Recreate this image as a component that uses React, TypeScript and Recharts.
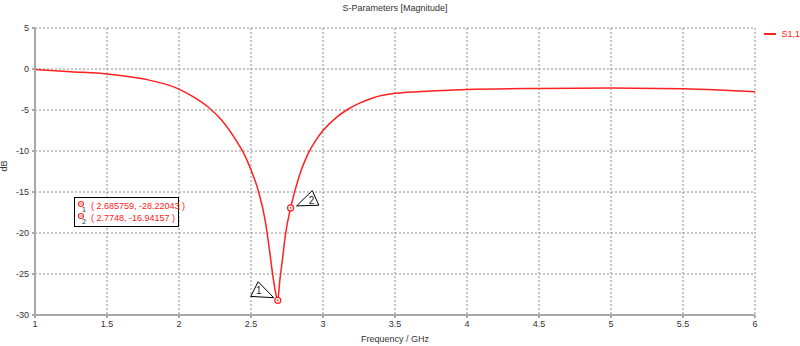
import { LineChart, Line, XAxis, YAxis, CartesianGrid, ReferenceDot } from "recharts";

const freqGHz = [
  1.0, 1.25, 1.5, 1.75, 2.0, 2.1, 2.2, 2.3, 2.4, 2.45, 2.5, 2.55, 2.6, 2.63, 2.65, 2.67, 2.685759,
  2.7, 2.72, 2.74, 2.7748, 2.8, 2.85, 2.9, 2.95, 3.0, 3.1, 3.165, 3.25, 3.35, 3.5, 3.75, 4.0, 4.5, 5.0, 5.5,
  5.75, 6.0,
];
const s11dB = [
  -0.05, -0.33, -0.6, -1.2, -2.45, -3.4, -4.6, -6.3, -8.8, -10.3, -12.3, -14.8, -18.6, -22.3, -25.0,
  -27.2, -28.22043, -25.8, -23.0, -20.1, -16.94157, -15.2, -12.3, -10.2, -8.7, -7.5, -5.8, -5.0, -4.2, -3.5,
  -2.97, -2.68, -2.5, -2.37, -2.32, -2.4, -2.55, -2.77,
];
const xTicks = [1, 1.5, 2, 2.5, 3, 3.5, 4, 4.5, 5, 5.5, 6];
const yTicks = [-30, -25, -20, -15, -10, -5, 0, 5];
const markerNames = ["1", "2"];
const markerFreq = [2.685759, 2.7748];
const markerDB = [-28.22043, -16.94157];

const data = freqGHz.map((f, i) => ({ f, s11: s11dB[i] }));

const RED = "#ff2020";
const FONT = "'Liberation Sans', Arial, sans-serif";

// triangle flag beside each marker, offsets relative to the marker point
const flags = [
  { pts: [[-27, -4], [-19.6, -18.7], [-4, -2.7]], tx: -19, ty: -6 },
  { pts: [[6, -2], [21.7, -17.3], [28.3, -2.7]], tx: 21, ty: -4 },
];

const markerShape = (idx: number) => (props: any) => {
  const { cx, cy } = props;
  const fl = flags[idx];
  const pts = fl.pts.map(([dx, dy]) => `${cx + dx},${cy + dy}`).join(" ");
  return (
    <g>
      <polygon points={pts} fill="white" stroke="#000" strokeWidth={1} />
      <text x={cx + fl.tx} y={cy + fl.ty} fontSize={10} fontFamily={FONT} fill="#222" textAnchor="middle">
        {markerNames[idx]}
      </text>
      <circle cx={cx} cy={cy} r={3} fill="white" stroke={RED} strokeWidth={1.2} />
      <circle cx={cx} cy={cy} r={0.8} fill={RED} />
    </g>
  );
};

export default function App() {
  return (
    <div style={{ position: "absolute", left: 0, top: 0, width: 800, height: 346, background: "#fff", fontFamily: FONT }}>
      <div style={{ position: "absolute", left: 0, top: 3, width: 790, textAlign: "center", fontSize: 9, color: "#333" }}>
        S-Parameters [Magnitude]
      </div>
      <div style={{ position: "absolute", left: 764, top: 29, width: 36, overflow: "hidden", whiteSpace: "nowrap", fontSize: 9, color: RED, display: "flex", alignItems: "center" }}>
        <span style={{ display: "inline-block", width: 15, height: 1.5, background: RED, marginRight: 5 }} />
        <span>S1,1</span>
      </div>
      <LineChart width={800} height={346} data={data} margin={{ top: 28, right: 45, left: 0, bottom: 0 }}>
        <CartesianGrid stroke="#8c8c8c" strokeDasharray="2 2" vertical horizontal />
        <XAxis
          dataKey="f"
          type="number"
          domain={[1, 6]}
          ticks={xTicks}
          height={31}
          tickSize={3}
          tickMargin={3}
          stroke="#a8a8a8"
          strokeWidth={2}
          tick={{ fontSize: 9, fill: "#333", fontFamily: FONT }}
          label={{ value: "Frequency / GHz", position: "insideBottom", offset: 4, fontSize: 9, fill: "#333", fontFamily: FONT }}
        />
        <YAxis
          type="number"
          domain={[-30, 5]}
          ticks={yTicks}
          width={35}
          tickSize={3}
          tickMargin={3}
          stroke="#a8a8a8"
          strokeWidth={2}
          tick={{ fontSize: 9, fill: "#333", fontFamily: FONT }}
          label={{ value: "dB", angle: -90, position: "insideLeft", offset: 4, fontSize: 9, fill: "#333", fontFamily: FONT }}
        />
        <XAxis xAxisId="top" orientation="top" type="number" domain={[1, 6]} ticks={[]} height={0} stroke="#999" tick={false} />
        <YAxis yAxisId="right" orientation="right" type="number" domain={[-30, 5]} ticks={[]} width={0} stroke="#999" tick={false} />
        <Line dataKey="s11" type="monotone" stroke={RED} strokeWidth={1.5} dot={false} isAnimationActive={false} />
        {markerFreq.map((f, i) => (
          <ReferenceDot key={i} x={f} y={markerDB[i]} r={3} ifOverflow="visible" shape={markerShape(i)} />
        ))}
      </LineChart>
      <div style={{ position: "absolute", left: 74, top: 197, width: 103, height: 28, border: "1px solid #000", background: "#fff", fontSize: 9, color: RED }}>
        {markerNames.map((n, i) => (
          <div key={n} style={{ position: "absolute", left: 2, top: 2 + i * 12, height: 12, whiteSpace: "nowrap", display: "flex", alignItems: "center" }}>
            <svg width={12} height={12} style={{ overflow: "visible" }}>
              <circle cx={4} cy={4} r={2.5} fill="white" stroke={RED} strokeWidth={1.1} />
              <circle cx={4} cy={4} r={0.7} fill={RED} />
              <text x={5} y={12} fontSize={7} fill="#333" fontFamily={FONT}>{n}</text>
            </svg>
            <span style={{ marginLeft: 2 }}>( {markerFreq[i]}, {markerDB[i]} )</span>
          </div>
        ))}
      </div>
    </div>
  );
}
